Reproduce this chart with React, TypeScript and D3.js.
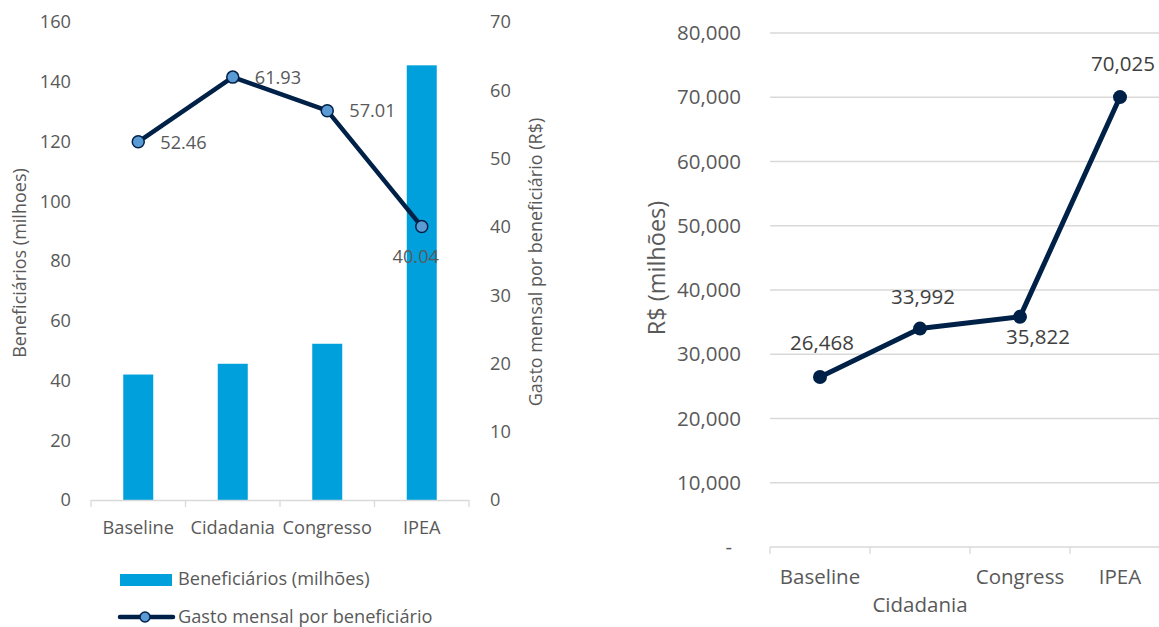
import React, { useEffect, useRef } from "react";
import * as d3 from "d3";

// left chart
const leftCategories = ["Baseline", "Cidadania", "Congresso", "IPEA"];
const beneficiarios = [42, 45.6, 52.3, 145.5];
const gastoMensal = [52.46, 61.93, 57.01, 40.04];
const leftTicks = [0, 20, 40, 60, 80, 100, 120, 140, 160];
const rightTicks = [0, 10, 20, 30, 40, 50, 60, 70];

// right chart
const rightCategories = ["Baseline", "Cidadania", "Congress", "IPEA"];
const custoTotal = [26468, 33992, 35822, 70025];
const costTicks = [0, 10000, 20000, 30000, 40000, 50000, 60000, 70000, 80000];

const FONT = "'Open Sans', 'Noto Sans', sans-serif";
const GREY = "#595959";
const BAR = "#00A0DC";
const NAVY = "#002147";
const MARKER = "#5B9BD5";

const App: React.FC = () => {
  const ref = useRef<SVGSVGElement | null>(null);

  useEffect(() => {
    const svg = d3.select(ref.current);
    svg.selectAll("*").remove();

    // ---------- left combo chart ----------
    const L = svg.append("g");
    const fs = 18.2;
    const x = d3.scaleBand().domain(leftCategories).range([91, 469]);
    const yL = d3.scaleLinear().domain([0, 160]).range([500, 22]);
    const yR = d3.scaleLinear().domain([0, 70]).range([500, 22]);

    L.selectAll("text.ytl")
      .data(leftTicks)
      .enter()
      .append("text")
      .attr("x", 71)
      .attr("y", (d) => yL(d))
      .attr("dy", "0.35em")
      .attr("text-anchor", "end")
      .attr("font-size", fs)
      .attr("fill", GREY)
      .text((d) => d);

    L.selectAll("text.ytr")
      .data(rightTicks)
      .enter()
      .append("text")
      .attr("x", 490)
      .attr("y", (d) => yR(d))
      .attr("dy", "0.35em")
      .attr("font-size", fs)
      .attr("fill", GREY)
      .text((d) => d);

    L.append("text")
      .attr("transform", "translate(26,263) rotate(-90)")
      .attr("text-anchor", "middle")
      .attr("font-size", 18)
      .attr("fill", GREY)
      .text("Beneficiários (milhoes)");

    L.append("text")
      .attr("transform", "translate(542,262) rotate(-90)")
      .attr("text-anchor", "middle")
      .attr("font-size", 18)
      .attr("fill", GREY)
      .text("Gasto mensal por beneficiário (R$)");

    L.selectAll("rect.bar")
      .data(beneficiarios)
      .enter()
      .append("rect")
      .attr("x", (_, i) => x(leftCategories[i])! + x.bandwidth() / 2 - 15)
      .attr("y", (d) => yL(d))
      .attr("width", 30)
      .attr("height", (d) => yL(0) - yL(d))
      .attr("fill", BAR);

    const xAxisL = L.append("g").attr("stroke", "#d9d9d9").attr("stroke-width", 1.3);
    xAxisL.append("line").attr("x1", 91).attr("x2", 469).attr("y1", 500.5).attr("y2", 500.5);
    [...leftCategories.map((c) => x(c)!), 469].forEach((t) => {
      xAxisL.append("line").attr("x1", t).attr("x2", t).attr("y1", 500).attr("y2", 507);
    });

    L.selectAll("text.xl")
      .data(leftCategories)
      .enter()
      .append("text")
      .attr("x", (d) => x(d)! + x.bandwidth() / 2)
      .attr("y", 528)
      .attr("dy", "0.35em")
      .attr("text-anchor", "middle")
      .attr("font-size", fs)
      .attr("fill", GREY)
      .text((d) => d);

    const cx = (i: number) => x(leftCategories[i])! + x.bandwidth() / 2;
    const line = d3
      .line<number>()
      .x((_, i) => cx(i))
      .y((d) => yR(d));
    L.append("path")
      .datum(gastoMensal)
      .attr("d", line)
      .attr("fill", "none")
      .attr("stroke", NAVY)
      .attr("stroke-width", 4.5)
      .attr("stroke-linejoin", "round");
    L.selectAll("circle.m")
      .data(gastoMensal)
      .enter()
      .append("circle")
      .attr("cx", (_, i) => cx(i))
      .attr("cy", (d) => yR(d))
      .attr("r", 6)
      .attr("fill", MARKER)
      .attr("stroke", NAVY)
      .attr("stroke-width", 1.5);

    // label offsets relative to each point
    const lblOff = [
      [22, 1, "start"],
      [22, 1, "start"],
      [22, 0, "start"],
      [-6, 30, "middle"],
    ] as const;
    L.selectAll("text.lbl")
      .data(gastoMensal)
      .enter()
      .append("text")
      .attr("x", (_, i) => cx(i) + lblOff[i][0])
      .attr("y", (d, i) => yR(d) + lblOff[i][1])
      .attr("dy", "0.35em")
      .attr("text-anchor", (_, i) => lblOff[i][2])
      .attr("font-size", fs)
      .attr("fill", GREY)
      .text((d) => d.toFixed(2));

    // legend
    L.append("rect").attr("x", 120).attr("y", 574).attr("width", 52).attr("height", 12).attr("fill", BAR);
    L.append("text")
      .attr("x", 178)
      .attr("y", 579)
      .attr("dy", "0.35em")
      .attr("font-size", fs)
      .attr("fill", GREY)
      .text("Beneficiários (milhões)");
    L.append("line")
      .attr("x1", 120)
      .attr("x2", 173)
      .attr("y1", 617)
      .attr("y2", 617)
      .attr("stroke", NAVY)
      .attr("stroke-width", 4.5)
      .attr("stroke-linecap", "round");
    L.append("circle").attr("cx", 145).attr("cy", 617).attr("r", 5).attr("fill", MARKER).attr("stroke", NAVY).attr("stroke-width", 1.5);
    L.append("text")
      .attr("x", 178)
      .attr("y", 617)
      .attr("dy", "0.35em")
      .attr("font-size", fs)
      .attr("fill", GREY)
      .text("Gasto mensal por beneficiário");

    // ---------- right line chart ----------
    const R = svg.append("g");
    const fs2 = 20.5;
    const x2 = d3.scaleBand().domain(rightCategories).range([770, 1170]);
    const y2 = d3.scaleLinear().domain([0, 80000]).range([547, 33]);
    const fmt = d3.format(",");

    R.selectAll("line.grid")
      .data(costTicks.slice(1))
      .enter()
      .append("line")
      .attr("x1", 770)
      .attr("x2", 1159)
      .attr("y1", (d) => y2(d))
      .attr("y2", (d) => y2(d))
      .attr("stroke", "#d9d9d9")
      .attr("stroke-width", 1.3);

    R.selectAll("text.yt")
      .data(costTicks)
      .enter()
      .append("text")
      .attr("x", (d) => (d === 0 ? 732 : 741))
      .attr("y", (d) => y2(d))
      .attr("dy", "0.35em")
      .attr("text-anchor", "end")
      .attr("font-size", fs2)
      .attr("fill", GREY)
      .text((d) => (d === 0 ? "-" : fmt(d)));

    R.append("text")
      .attr("transform", "translate(665,268) rotate(-90)")
      .attr("text-anchor", "middle")
      .attr("font-size", 23.5)
      .attr("fill", GREY)
      .text("R$ (milhões)");

    const xAxisR = R.append("g").attr("stroke", "#d9d9d9").attr("stroke-width", 1.3);
    xAxisR.append("line").attr("x1", 770).attr("x2", 1159).attr("y1", 547).attr("y2", 547);
    rightCategories.forEach((c) => {
      xAxisR.append("line").attr("x1", x2(c)!).attr("x2", x2(c)!).attr("y1", 547).attr("y2", 554);
    });

    const cx2 = (i: number) => x2(rightCategories[i])! + x2.bandwidth() / 2;
    R.selectAll("text.xl")
      .data(rightCategories)
      .enter()
      .append("text")
      .attr("x", (_, i) => cx2(i))
      .attr("y", (_, i) => (i === 1 ? 605 : 577))
      .attr("dy", "0.35em")
      .attr("text-anchor", "middle")
      .attr("font-size", fs2)
      .attr("fill", GREY)
      .text((d) => d);

    const line2 = d3
      .line<number>()
      .x((_, i) => cx2(i))
      .y((d) => y2(d));
    R.append("path")
      .datum(custoTotal)
      .attr("d", line2)
      .attr("fill", "none")
      .attr("stroke", NAVY)
      .attr("stroke-width", 5)
      .attr("stroke-linejoin", "round");
    R.selectAll("circle.m")
      .data(custoTotal)
      .enter()
      .append("circle")
      .attr("cx", (_, i) => cx2(i))
      .attr("cy", (d) => y2(d))
      .attr("r", 7)
      .attr("fill", NAVY);

    const off2 = [
      [2, -34],
      [3, -32],
      [18, 20],
      [3, -33],
    ];
    R.selectAll("text.lbl")
      .data(custoTotal)
      .enter()
      .append("text")
      .attr("x", (_, i) => cx2(i) + off2[i][0])
      .attr("y", (d, i) => y2(d) + off2[i][1])
      .attr("dy", "0.35em")
      .attr("text-anchor", "middle")
      .attr("font-size", fs2)
      .attr("fill", "#404040")
      .text((d) => fmt(d));
  }, []);

  return (
    <svg
      ref={ref}
      width={1159}
      height={627}
      style={{ position: "absolute", left: 0, top: 0, fontFamily: FONT, background: "#fff" }}
    />
  );
};

export default App;
